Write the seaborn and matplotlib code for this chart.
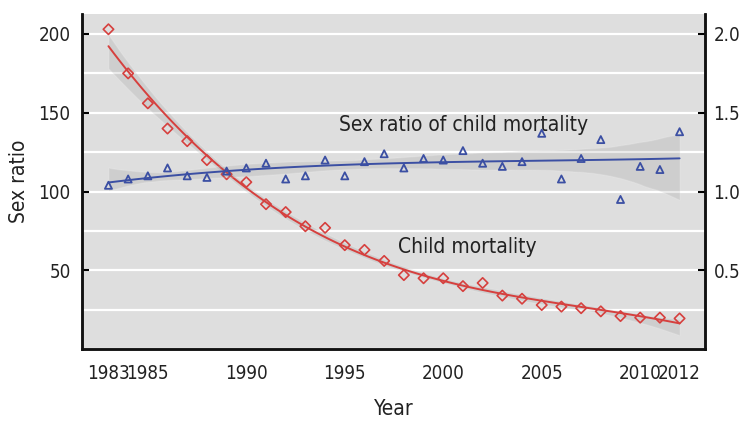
import matplotlib
matplotlib.use("Agg")
import matplotlib.pyplot as plt
from matplotlib.ticker import MultipleLocator, FormatStrFormatter
import pandas as pd
import seaborn as sns

# values
years = list(range(1983, 2013))
child_mortality = [203, 175, 156, 140, 132, 120, 111, 106, 92, 87,
                   78, 77, 66, 63, 56, 47, 45, 45, 40, 42,
                   34, 32, 28, 27, 26, 24, 21, 20, 20, 19.5]
sex_ratio = [1.04, 1.08, 1.10, 1.15, 1.10, 1.09, 1.13, 1.15, 1.18, 1.08,
             1.10, 1.20, 1.10, 1.19, 1.24, 1.15, 1.21, 1.20, 1.26, 1.18,
             1.16, 1.19, 1.37, 1.08, 1.21, 1.33, 0.95, 1.16, 1.14, 1.38]
year_ticks = [1983, 1985, 1990, 1995, 2000, 2005, 2010, 2012]
left_ticks = [50, 100, 150, 200]
right_ticks = [0.5, 1.0, 1.5, 2.0]

df = pd.DataFrame({"Year": years, "mortality": child_mortality, "ratio": sex_ratio})

RED = "#d6403e"
BLUE = "#3b4fa3"
BAND = (0.45, 0.45, 0.45, 0.42)
TXT = "#222222"

sns.set_theme(style="darkgrid", rc={"axes.facecolor": "#dedede", "grid.color": "white",
                                    "grid.linewidth": 1.6})
# condensed face, close to the narrow font of the original
plt.rcParams["font.family"] = ["DejaVu Sans"]
plt.rcParams["font.stretch"] = "condensed"

fig = plt.figure(figsize=(7.51, 4.37), dpi=100)
ax = fig.add_axes([0.109, 0.201, 0.830, 0.767])
ax2 = ax.twinx()

# child mortality (left axis)
sns.regplot(data=df, x="Year", y="mortality", order=3, scatter=False, ax=ax,
            color=RED, line_kws={"lw": 1.4}, seed=1)
ax.collections[-1].set_facecolor(BAND)
sns.scatterplot(data=df, x="Year", y="mortality", ax=ax, marker="D", s=28,
                facecolor="none", edgecolor=RED, linewidth=1.2, zorder=4)

# sex ratio (right axis)
sns.regplot(data=df, x="Year", y="ratio", order=3, scatter=False, ax=ax2,
            color=BLUE, line_kws={"lw": 1.4}, seed=1)
ax2.collections[-1].set_facecolor(BAND)
sns.scatterplot(data=df, x="Year", y="ratio", ax=ax2, marker="^", s=26,
                facecolor="none", edgecolor=BLUE, linewidth=1.3, zorder=4)

ax.set_xlim(1981.65, 2013.3)
ax.set_ylim(0, 212.7)
ax2.set_ylim(0, 2.127)

ax.set_xticks(year_ticks)
ax.set_xticks(range(1985, 2011, 5), minor=True)
ax.set_yticks(left_ticks)
ax.yaxis.set_minor_locator(MultipleLocator(25))
ax2.set_yticks(right_ticks)
ax2.yaxis.set_major_formatter(FormatStrFormatter("%.1f"))

ax.grid(False)
ax.grid(True, which="minor", axis="both", color="white", lw=1.6)
ax.grid(True, which="major", axis="y", color="white", lw=1.6)
ax2.grid(False)
ax.set_axisbelow(True)

for a in (ax, ax2):
    a.tick_params(which="major", direction="in", length=5, width=1.5, color="black",
                  labelsize=13.5, labelcolor=TXT, pad=11)
    a.tick_params(which="minor", length=0)
    for side in ("left", "bottom", "right"):
        a.spines[side].set_visible(True)
        a.spines[side].set_color("#111111")
        a.spines[side].set_linewidth(1.8)
    a.spines["top"].set_visible(False)
ax.tick_params(axis="y", pad=8)
ax2.tick_params(axis="y", pad=6)
ax2.set_ylabel("")

ax.set_xlabel("Year", fontsize=15, color=TXT, labelpad=11)
ax.set_ylabel("Sex ratio", fontsize=15, color=TXT, labelpad=7)

ax.text(1994.7, 142, "Sex ratio of child mortality", fontsize=15, color=TXT,
        va="center", zorder=5)
ax.text(1997.7, 65, "Child mortality", fontsize=15, color=TXT, va="center", zorder=5)

fig.savefig("out.png", dpi=100)
